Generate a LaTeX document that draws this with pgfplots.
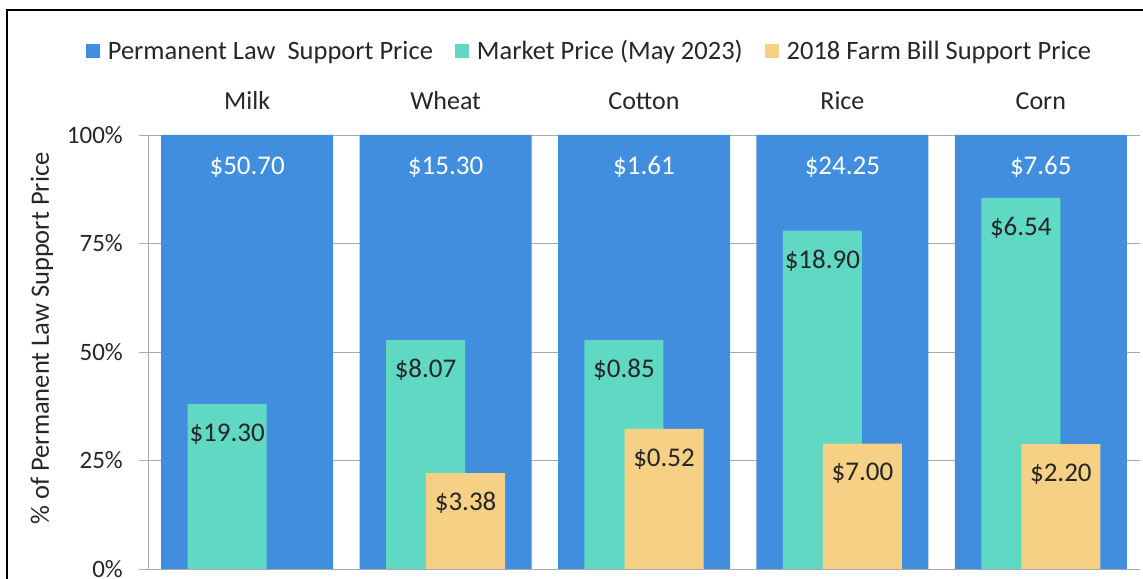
\documentclass[border=0pt]{standalone}
\usepackage{pgfplots}
\pgfplotsset{compat=1.18}
\usepackage{fontspec}
\setmainfont{Carlito}
\definecolor{cblue}{RGB}{65,142,222}
\definecolor{cgreen}{RGB}{95,216,196}
\definecolor{corange}{RGB}{245,208,133}
\definecolor{cgrid}{RGB}{170,170,170}
\definecolor{ctext}{RGB}{38,38,38}
\begin{document}
\begin{tikzpicture}[x=1bp,y=1bp]
\useasboundingbox (0,0) rectangle (1143,579);
\draw[line width=1.5bp, black] (7,0) -- (7,569) -- (1143,569);
\begin{axis}[
  at={(148bp,10bp)}, anchor=south west,
  scale only axis, width=992bp, height=434bp,
  xmin=-0.5, xmax=4.5, ymin=0, ymax=100,
  ybar,
  axis y line*=left,
  axis line style={cgrid, line width=0.8bp},
  xtick={0,1,2,3,4},
  xticklabels={Milk,Wheat,Cotton,Rice,Corn},
  xticklabel pos=upper,
  x tick style={draw=none},
  xticklabel style={font=\fontsize{26bp}{30bp}\selectfont, text=ctext, anchor=base, inner sep=0pt, yshift=16bp},
  ytick={0,25,50,75,100},
  yticklabels={0\%,25\%,50\%,75\%,100\%},
  y tick style={draw=cgrid, line width=0.8bp},
  tick align=outside,
  major tick length=9bp,
  yticklabel style={font=\fontsize{25bp}{30bp}\selectfont, text=ctext, anchor=east, inner sep=0pt, xshift=-16bp},
  ymajorgrids,
  grid style={cgrid, line width=0.8bp},
  ylabel={\% of Permanent Law Support Price},
  ylabel style={at={(axis description cs:-0.1069,0.531)}, anchor=center, font=\fontsize{26.5bp}{30bp}\selectfont, text=ctext},
  legend columns=3,
  legend style={at={(axis description cs:0.444,1.1935)}, anchor=center, draw=none, fill=none,
    font=\fontsize{26.5bp}{30bp}\selectfont, text=ctext, nodes={inner sep=0pt},
    /tikz/every odd column/.append style={column sep=8bp},
    /tikz/every even column/.append style={column sep=22bp}},
  legend image code/.code={\fill[#1] (0bp,-7bp) rectangle (14bp,7bp);},
  point meta=explicit symbolic,
  nodes near coords,
  every node near coord/.append style={anchor=center, yshift=-30bp, font=\fontsize{27bp}{30bp}\selectfont, inner sep=0pt},
]
\addplot[fill=cblue, draw=none, bar width=0.867, bar shift=0, every node near coord/.append style={text=white, yshift=-2bp}]
  coordinates {(0,100) [\$50.70] (1,100) [\$15.30] (2,100) [\$1.61] (3,100) [\$24.25] (4,100) [\$7.65]};
\addlegendentry{Permanent Law~~Support Price}
\addplot[fill=cgreen, draw=none, bar width=0.398, bar shift=-0.101, every node near coord/.append style={text=ctext}]
  coordinates {(0,38.07) [\$19.30] (1,52.75) [\$8.07] (2,52.80) [\$0.85] (3,77.94) [\$18.90] (4,85.49) [\$6.54]};
\addlegendentry{Market Price (May 2023)}
\addplot[fill=corange, draw=none, bar width=0.398, bar shift=0.101, every node near coord/.append style={text=ctext}]
  coordinates {(1,22.09) [\$3.38] (2,32.30) [\$0.52] (3,28.87) [\$7.00] (4,28.76) [\$2.20]};
\addlegendentry{2018 Farm Bill Support Price}
\end{axis}
\end{tikzpicture}
\end{document}
